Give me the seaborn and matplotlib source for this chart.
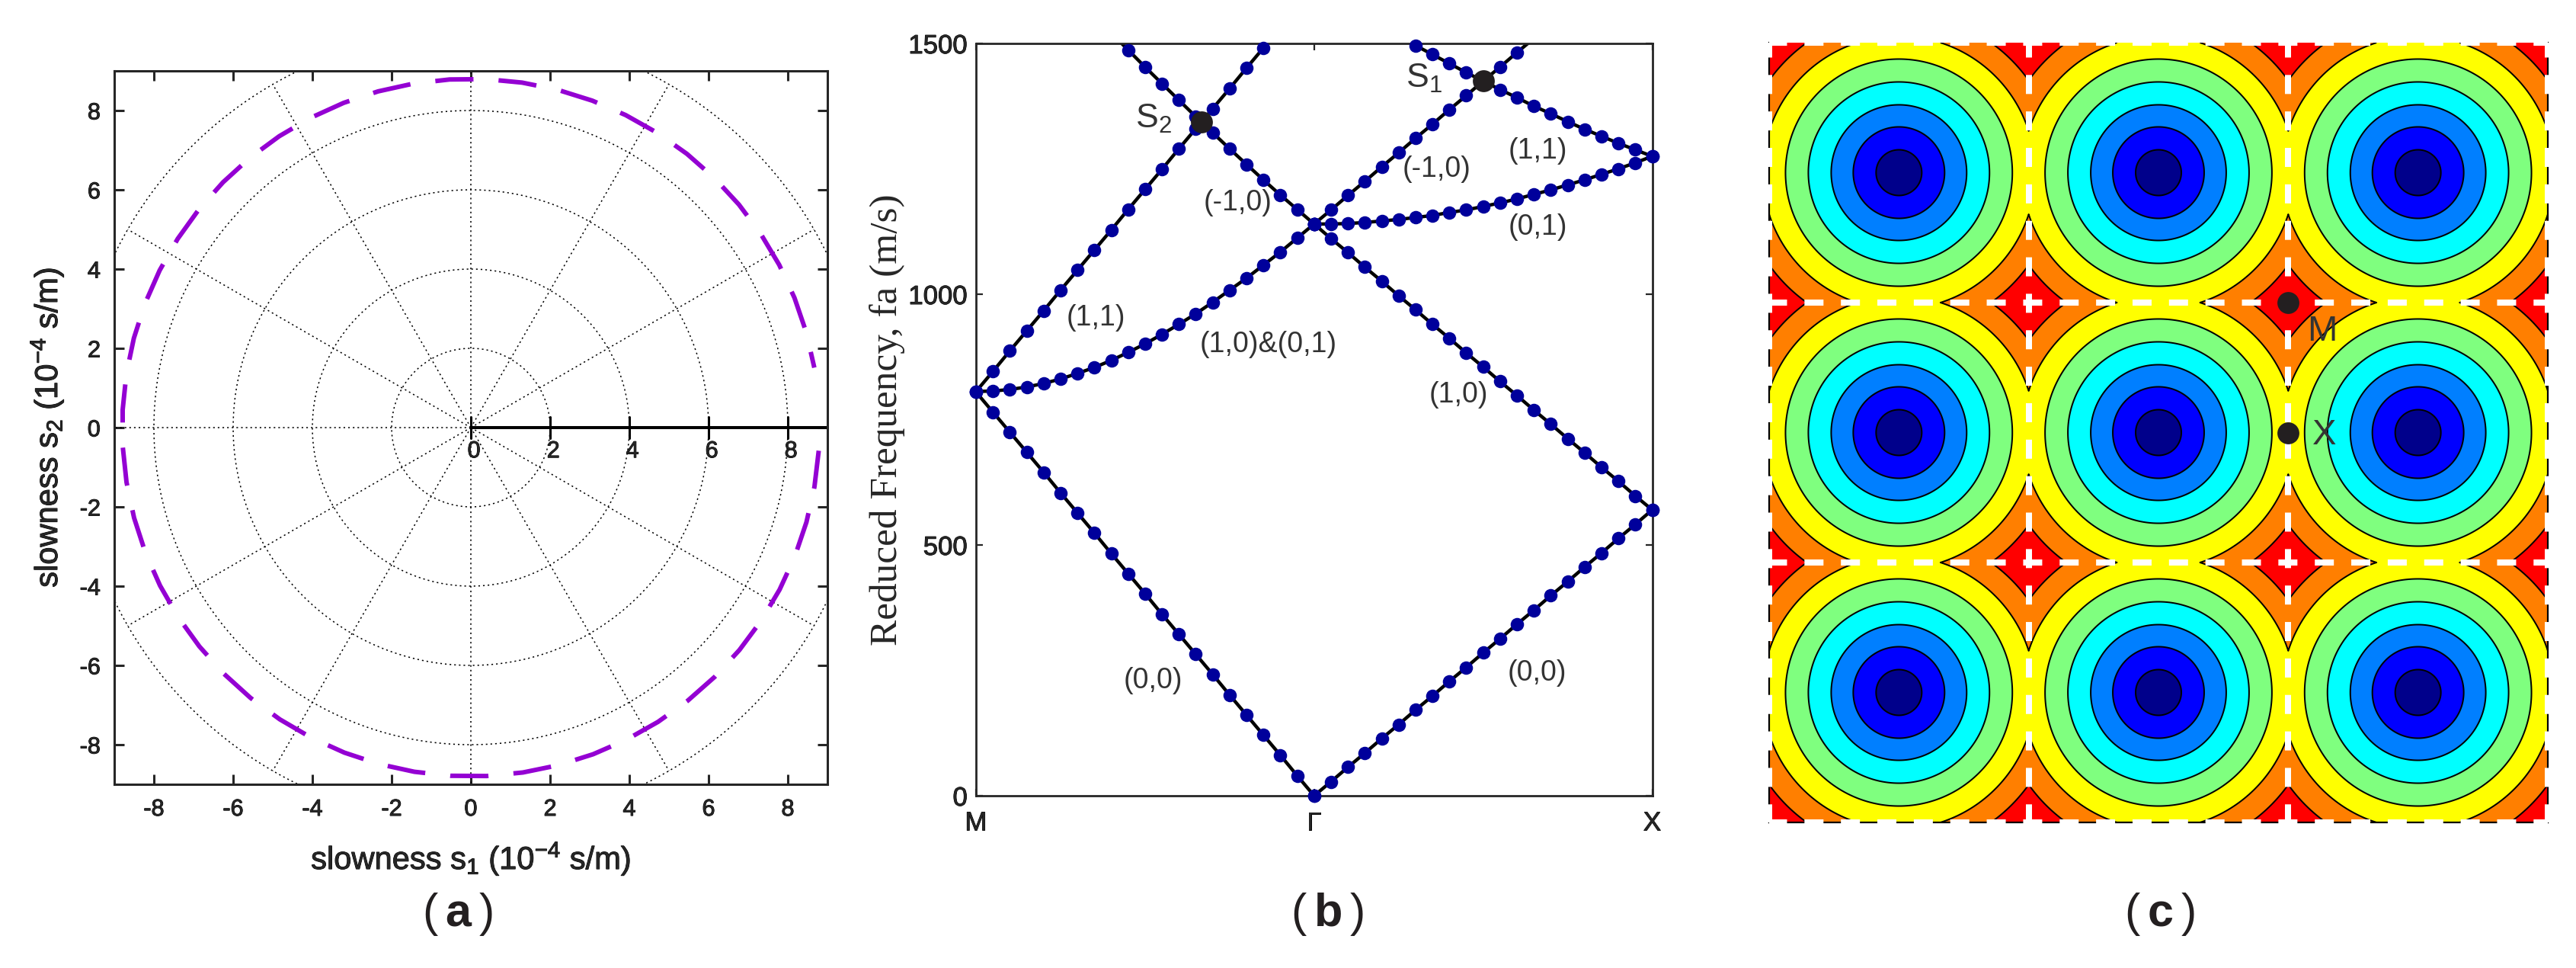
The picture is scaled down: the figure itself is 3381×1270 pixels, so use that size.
import numpy as np
import seaborn as sns
import matplotlib.pyplot as plt
import matplotlib.patheffects as pe

W, H = 3381, 1270

# panel (a): slowness curve
slowness_deg = np.linspace(-3.8, -350.1, 59)
slowness_r = [8.8, 8.8, 8.8, 8.8, 8.8, 8.8, 8.8, 8.8, 8.8, 8.8,
              8.8, 8.8, 8.8, 8.8, 8.8, 8.8, 8.8, 8.8, 8.8, 8.8,
              8.8, 8.8, 8.8, 8.8, 8.8, 8.8, 8.8, 8.8, 8.8, 8.8,
              8.8, 8.8, 8.8, 8.8, 8.8, 8.8, 8.8, 8.8, 8.8, 8.8,
              8.8, 8.8, 8.8, 8.8, 8.8, 8.8, 8.8, 8.8, 8.8, 8.8,
              8.8, 8.8, 8.8, 8.8, 8.8, 8.8, 8.8, 8.8, 8.8]
grid_radii = [2, 4, 6, 8, 10]
spoke_deg = [0, 30, 60, 90, 120, 150, 180, 210, 240, 270, 300, 330]
a_ticks = [-8, -6, -4, -2, 0, 2, 4, 6, 8]
a_inner_ticks = [0, 2, 4, 6, 8]

# panel (b): bands along M -> Gamma (k 0..20) and Gamma -> X (k 20..40)
k_mg = list(range(0, 21))
k_gx = list(range(20, 41))
band_00_mg = [805, 765, 725, 685, 645, 604, 564, 524, 483, 443, 403, 362, 322, 282, 242, 201, 161, 121, 81, 40, 0]
band_10_mg = [806, 807, 810, 815, 822, 831, 842, 854, 868, 884, 901, 920, 940, 961, 984, 1008, 1032, 1058, 1084, 1112, 1140]
band_11_mg = [806, 846, 887, 927, 967, 1008, 1048, 1088, 1128, 1169, 1209, 1249, 1290, 1330, 1370, 1410, 1451, 1491, 1531]
band_m10_mg = [1521, 1487, 1453, 1420, 1387, 1354, 1322, 1290, 1259, 1228, 1198, 1169, 1140]
band_00_gx = [0, 28, 57, 85, 114, 142, 171, 199, 228, 256, 285, 313, 342, 370, 399, 427, 456, 484, 513, 541, 570]
band_10_gx = [1140, 1111, 1083, 1054, 1026, 997, 969, 940, 912, 883, 855, 826, 798, 769, 741, 712, 684, 655, 627, 598, 570]
band_m10_gx = [1140, 1168, 1197, 1225, 1254, 1282, 1311, 1339, 1368, 1396, 1425, 1453, 1482, 1510]
band_01_gx = [1140, 1140, 1141, 1143, 1146, 1149, 1153, 1157, 1163, 1168, 1175, 1182, 1190, 1199, 1208, 1218, 1228, 1239, 1250, 1262, 1275]
band_11_gx = [1515, 1496, 1478, 1460, 1442, 1425, 1408, 1392, 1375, 1360, 1344, 1329, 1315, 1301, 1288, 1275]
saddle_k = [13.33, 30]
saddle_f = [1343, 1425]
b_notes = ['(1,1)', '(1,0)&(0,1)', '(1,0)', '(-1,0)', '(-1,0)', '(1,1)', '(0,1)', '(0,0)', '(0,0)']
b_note_k = [7.09, 17.3, 28.55, 15.48, 27.25, 33.24, 33.24, 10.47, 33.2]
b_note_f = [953, 900, 799, 1183, 1249, 1286, 1134, 230, 245]

# panel (c): contour field, minima sit on a square lattice
lattice = [0.5, 1.5, 2.5]
contour_levels = [0, 0.088, 0.176, 0.261, 0.349, 0.437, 0.525, 0.613, 0.75]
contour_colors = ['#00008b', '#0000ff', '#007fff', '#00ffff', '#7fff7f', '#ffff00', '#ff7f00', '#ff0000']
cell_lines = [0, 1, 2, 3]
point_x = [2.0, 2.0]
point_y = [2.0, 1.5]

sns.set_style('ticks')
plt.rcParams['font.family'] = ['Liberation Sans', 'DejaVu Sans']
plt.rcParams['mathtext.fontset'] = 'custom'
plt.rcParams['mathtext.rm'] = 'Liberation Sans'
plt.rcParams['mathtext.bf'] = 'Liberation Sans:bold'
plt.rcParams['mathtext.default'] = 'regular'
plt.rcParams['axes.unicode_minus'] = False
plt.rcParams['xtick.direction'] = 'in'
plt.rcParams['ytick.direction'] = 'in'

fig = plt.figure(figsize=(W / 100, H / 100), dpi=100)
heavy = [pe.withStroke(linewidth=0.7, foreground='black')]


def make_axes(left, right, top, bottom):
    return fig.add_axes([left / W, 1 - bottom / H, (right - left) / W, (bottom - top) / H])


# ---- (a)
ax = make_axes(150, 1086, 93, 1029)
dots = (0, (1.4, 2.6))
circle = np.radians(np.arange(0, 361, 1))
for r in grid_radii:
    ax.plot(r * np.cos(circle), r * np.sin(circle), color='black', lw=1.1, ls=dots)
for d in spoke_deg:
    t = np.radians(d)
    ax.plot([0, 10 * np.cos(t)], [0, 10 * np.sin(t)], color='black', lw=1.1, ls=dots)
t = np.radians(slowness_deg)
sns.lineplot(x=np.array(slowness_r) * np.cos(t), y=np.array(slowness_r) * np.sin(t), sort=False,
             estimator=None, color='#9400d3', linewidth=4.3, linestyle=(0, (8.4, 5.52)), ax=ax)
ax.plot([0, 9], [0, 0], color='black', lw=2.9)
for v in a_inner_ticks:
    ax.plot([v, v], [-0.27, 0.27], color='black', lw=2.2)
    ax.text(v + 0.08, -0.6, str(v), ha='center', va='center', fontsize=22, path_effects=heavy)
ax.set_xlim(-9, 9)
ax.set_ylim(-9, 9)
ax.set_xticks(a_ticks, [str(v) for v in a_ticks])
ax.set_yticks(a_ticks, [str(v) for v in a_ticks])
ax.tick_params(top=True, right=True, length=9.4, width=2.2, labelsize=22, pad=13)
for lab in ax.get_xticklabels() + ax.get_yticklabels():
    lab.set_path_effects(heavy)
for s in ax.spines.values():
    s.set_linewidth(2.2)
ax.set_xlabel('slowness s$_1$ (10$^{-4}$ s/m)', fontsize=30, path_effects=heavy)
ax.set_ylabel('slowness s$_2$ (10$^{-4}$ s/m)', fontsize=30, path_effects=heavy)
ax.xaxis.set_label_coords(0.5, -0.078)
ax.yaxis.set_label_coords(-0.068, 0.5)

# ---- (b)
ax = make_axes(1281, 2168.5, 57, 1044)
series = [(k_mg, band_00_mg), (k_mg[:19], band_11_mg), (k_mg, band_10_mg), (k_mg[8:], band_m10_mg),
          (k_gx, band_00_gx), (k_gx, band_10_gx), (k_gx[:14], band_m10_gx), (k_gx, band_01_gx), (k_gx[5:], band_11_gx)]
for xs, ys in series:
    xs, ys = np.array(xs), np.array(ys)
    sns.lineplot(x=xs, y=ys, sort=False, estimator=None, color='black', linewidth=3.2, ax=ax)
    keep = ys <= 1500
    sns.scatterplot(x=xs[keep], y=ys[keep], color='#00009b', s=160, linewidth=0, clip_on=False, zorder=3, ax=ax)
sns.scatterplot(x=saddle_k, y=saddle_f, color='#231f20', s=430, linewidth=0, zorder=4, ax=ax)
for txt, xv, yv in zip(b_notes, b_note_k, b_note_f):
    ax.text(xv, yv, txt, ha='center', va='center', fontsize=27, color='#333333')
ax.text(10.5, 1350, 'S$_2$', ha='center', va='center', fontsize=32, color='#333333')
ax.text(26.5, 1430, 'S$_1$', ha='center', va='center', fontsize=32, color='#333333')
ax.set_xlim(0, 40)
ax.set_ylim(0, 1500)
ax.set_xticks([0, 20, 40], ['M', 'Γ', 'X'])
ax.set_yticks([0, 500, 1000, 1500])
ax.tick_params(top=True, right=True, length=6.5, width=1.6, labelsize=25, pad=8)
ax.tick_params(axis='x', pad=14)
for lab in ax.get_xticklabels() + ax.get_yticklabels():
    lab.set_path_effects(heavy)
for s in ax.spines.values():
    s.set_linewidth(2)
ax.set_ylabel('Reduced Frequency, fa (m/s)', fontsize=37, family=['Liberation Serif', 'DejaVu Serif'])
ax.yaxis.set_label_coords(-0.105, 0.5)

# ---- (c)
ax = make_axes(2322, 3344, 56, 1079)
grid = np.linspace(0, 3, 1801)
xx, yy = np.meshgrid(grid, grid)
field = np.min([np.hypot(xx - cx, yy - cy) for cx in lattice for cy in lattice], axis=0)
ax.contourf(xx, yy, field, levels=contour_levels, colors=contour_colors)
ax.contour(xx, yy, field, levels=contour_levels[1:-1], colors='black', linewidths=1.44)
ax.set_xlim(0, 3)
ax.set_ylim(0, 3)
ax.set_xticks([])
ax.set_yticks([])
ax.spines['top'].set_visible(False)
for name in ['left', 'right', 'bottom']:
    ax.spines[name].set_linewidth(1.6)
    ax.spines[name].set_color('black')
for v in cell_lines:
    ax.plot([0, 3], [v, v], color='white', lw=5.76, ls=(0.19, (3.125, 2.856)), clip_on=False, zorder=5)
    ax.plot([v, v], [3, 0], color='white', lw=5.76, ls=(0.69, (3.125, 2.856)), clip_on=False, zorder=5)
sns.scatterplot(x=point_x, y=point_y, color='#231f20', s=430, linewidth=0, zorder=6, ax=ax)
ax.text(2.13, 1.89, 'M', ha='center', va='center', fontsize=34, color='#333333', zorder=6)
ax.text(2.14, 1.49, 'X', ha='center', va='center', fontsize=34, color='#333333', zorder=6)

# panel letters
for letter, cx in zip(['a', 'b', 'c'], [600, 1742, 2834]):
    fig.text(cx / W, 1 - 1200 / H, '$(\\,\\mathbf{' + letter + '}\\,)$', ha='center', va='center',
             fontsize=44, color='#231f20')

fig.savefig('out.png', dpi=100)
